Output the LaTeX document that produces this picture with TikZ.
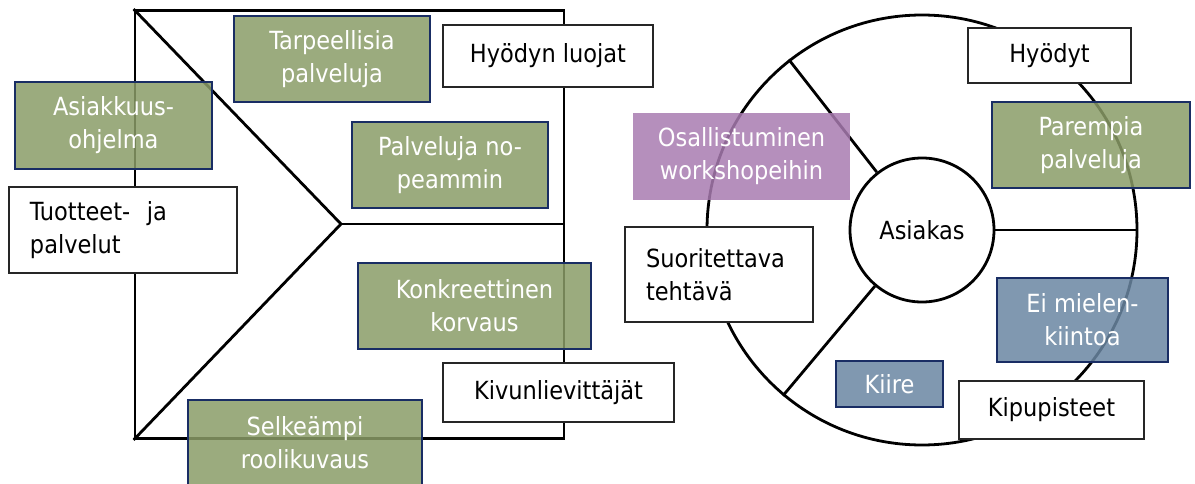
\documentclass[tikz,border=0pt]{standalone}
\usepackage{fontspec}
\setmainfont{DejaVu Sans Condensed}
\usetikzlibrary{calc}

\definecolor{boxgreen}{RGB}{138,156,103}
\definecolor{boxblue}{RGB}{106,134,162}
\definecolor{boxpurple}{RGB}{168,123,176}
\definecolor{navy}{RGB}{25,45,100}

\begin{document}
\begin{tikzpicture}[x=1pt,y=-1pt,
  every node/.style={font=\fontsize{25}{33}\selectfont, inner sep=0pt},
  frame/.style={draw=black, line width=2.8pt},
  dims/.style 2 args={minimum width=#1pt, minimum height=#2pt},
  whitebox/.style={draw=black!85, line width=2pt, fill=white, text=black, align=center},
  tinted/.style={line width=1.6pt, fill opacity=0.85, text opacity=1, text=white, align=center},
  greenbox/.style={tinted, draw=navy, fill=boxgreen},
  bluebox/.style={tinted, draw=navy, fill=boxblue},
  purplebox/.style={tinted, fill=boxpurple},
]
\useasboundingbox (0,0) rectangle (1195,484);

% --- value map: square with chevron ---
\node[frame, dims={429}{428}] (canvas) at (349.5,224.5) {};
\coordinate (apex) at (341,224);
\draw[frame, line join=miter] (canvas.north west) -- (apex) -- (canvas.south west);
\draw[frame] (apex) -- (apex -| canvas.east);

% --- customer profile: circle with customer in the middle ---
\node[circle, frame, minimum size=430pt] (profile) at (922,230) {};
\node[circle, frame, minimum size=144pt, text=black] (asiakas) at (922,230) {Asiakas};
\draw[frame] (asiakas.128) -- (profile.128);
\draw[frame] (asiakas.0) -- (profile.0);
\draw[frame] (asiakas.230) -- (profile.230);

% --- value map boxes ---
\node[greenbox, dims={196}{86}] (tarp) at (332,59) {Tarpeellisia\\palveluja};
\node[whitebox, dims={210}{62}] (luojat) at (548,56) {Hyödyn luojat};
\node[greenbox, dims={197}{87}] (asiakkuus) at (113.5,125.5) {Asiakkuus-\\ohjelma};
\node[greenbox, dims={196}{86}] (nopeammin) at (450,165) {Palveluja no-\\peammin};
\node[whitebox, dims={228}{86}, text width=186pt, inner xsep=21pt, align=left] (tuotteet) at (123,230) {Tuotteet-\ \ ja\\palvelut};
\node[greenbox, dims={233}{86}] (korvaus) at (474.5,306) {Konkreettinen\\korvaus};
\node[whitebox, dims={231}{59}] (kivun) at (558.5,392.5) {Kivunlievittäjät};
\node[greenbox, dims={234}{86}] (rooli) at (305,443) {Selkeämpi\\roolikuvaus};

% --- customer profile boxes ---
\node[whitebox, dims={163}{55}] (hyodyt) at (1049.5,55.5) {Hyödyt};
\node[greenbox, dims={198}{86}] (parempia) at (1091,145) {Parempia\\palveluja};
\node[purplebox, dims={217}{87}] (osal) at (741.5,156.5) {Osallistuminen\\workshopeihin};
\node[whitebox, dims={188}{95}, text width=146pt, inner xsep=21pt, align=left] (tehtava) at (719,274.5) {Suoritettava\\tehtävä};
\node[bluebox, dims={171}{84}] (mielen) at (1082.5,320) {Ei mielen-\\kiintoa};
\node[bluebox, dims={107}{46}] (kiire) at (889.5,384) {Kiire};
\node[whitebox, dims={185}{58}] (kipu) at (1051.5,410) {Kipupisteet};
\end{tikzpicture}
\end{document}
